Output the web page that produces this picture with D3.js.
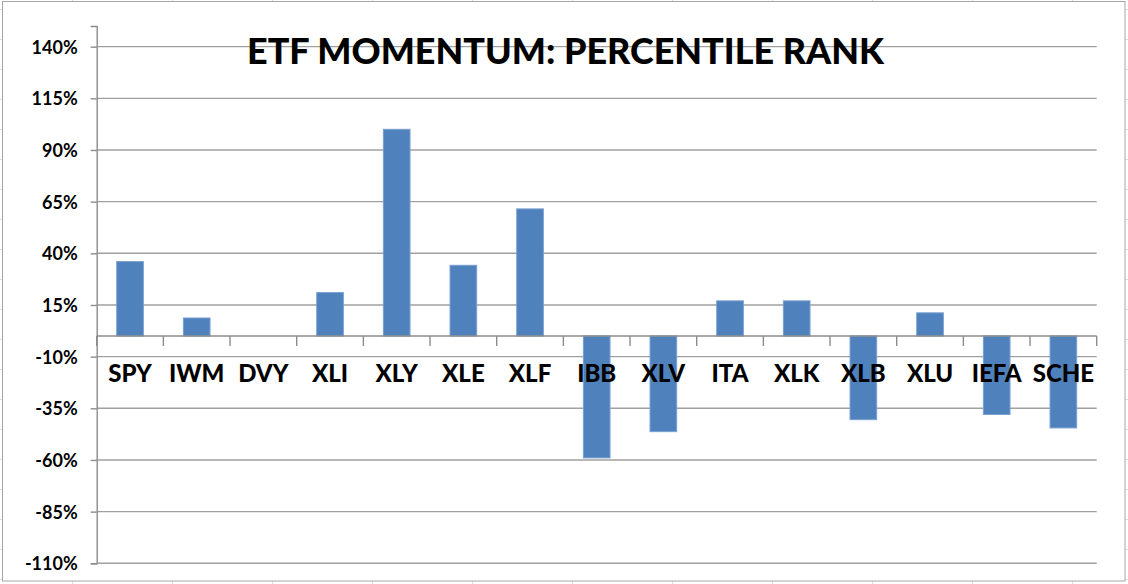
<!DOCTYPE html>
<html><head><meta charset="utf-8">
<script src="https://cdn.jsdelivr.net/npm/d3@7"></script>
<style>body{margin:0;background:#fff}svg{display:block}</style>
</head><body>
<svg id="c" width="1128" height="584"></svg>
<script>
const categories = ["SPY","IWM","DVY","XLI","XLY","XLE","XLF","IBB","XLV","ITA","XLK","XLB","XLU","IEFA","SCHE"];
const values = [36, 8.7, 0, 21, 100, 34.2, 61.5, -59, -46.3, 17, 17, -40.5, 11.2, -38, -44.5];
const yTicks = [-110,-85,-60,-35,-10,15,40,65,90,115,140];
const titleText = "ETF MOMENTUM: PERCENTILE RANK";

const svg = d3.select("#c");
const W = 1128, H = 584;
const L = 96.7, R = 1096.7, T = 26, B = 563.3;

// faint spreadsheet gridlines behind the chart
const bg = svg.append("g").attr("stroke","#dcdcdc").attr("stroke-width",1);
d3.range(72, W, 100).forEach(x => bg.append("line").attr("x1",x+0.5).attr("x2",x+0.5).attr("y1",0).attr("y2",H));
d3.range(9, H, 30).forEach(y => bg.append("line").attr("x1",0).attr("x2",W).attr("y1",y+0.5).attr("y2",y+0.5));
// chart area
svg.append("rect").attr("x",2.5).attr("y",1.5).attr("width",1122.5).attr("height",579.5)
  .attr("fill","#fff").attr("stroke","#a6a6a6").attr("stroke-width",1);

const x = d3.scaleBand().domain(categories).range([L,R]).paddingInner(0.6).paddingOuter(0.3);
const xb = d3.scaleBand().domain(categories).range([L,R]);
const y = d3.scaleLinear().domain([-110,150]).range([B,T]);

// gridlines
svg.append("g").selectAll("line").data(yTicks).join("line")
  .attr("x1",L).attr("x2",R).attr("y1",d=>y(d)).attr("y2",d=>y(d))
  .attr("stroke","#a0a0a0").attr("stroke-width",1.4);

// y axis
const yAxis = d3.axisLeft(y).tickValues(yTicks).tickSize(6).tickPadding(13).tickFormat(d=>d+"%");
const ga = svg.append("g").attr("transform",`translate(${L},0)`).call(yAxis);
ga.select(".domain").attr("stroke","#8c8c8c").attr("stroke-width",1.4);
ga.selectAll(".tick line").attr("stroke","#8c8c8c").attr("stroke-width",1.4);
ga.selectAll(".tick text").attr("font-family","Lato, 'Open Sans', sans-serif")
  .attr("font-weight","bold").attr("font-size",18).attr("fill","#000").attr("dy","0.36em");

// bars
svg.append("g").selectAll("rect").data(values).join("rect")
  .attr("x",(d,i)=>x(categories[i]))
  .attr("width",x.bandwidth())
  .attr("y",d=>Math.min(y(d),y(0)))
  .attr("height",d=>Math.abs(y(d)-y(0)))
  .attr("fill","#4f81bd").attr("stroke","#7aa0d2").attr("stroke-width",1);

// category axis at zero
const gx = svg.append("g");
gx.append("line").attr("x1",L).attr("x2",R).attr("y1",y(0)).attr("y2",y(0))
  .attr("stroke","#8c8c8c").attr("stroke-width",1.4);
const bounds = categories.map(c=>xb(c)).concat([R]);
gx.selectAll("line.t").data(bounds).join("line").attr("class","t")
  .attr("x1",d=>d).attr("x2",d=>d).attr("y1",y(0)).attr("y2",y(0)+10)
  .attr("stroke","#8c8c8c").attr("stroke-width",1.4);
gx.selectAll("text").data(categories).join("text")
  .attr("x",d=>xb(d)+xb.bandwidth()/2).attr("y",382)
  .attr("text-anchor","middle").attr("font-family","Lato, 'Open Sans', sans-serif")
  .attr("font-weight","900").attr("font-size",24).attr("fill","#000").text(d=>d);

// title
svg.append("text").attr("x",247).attr("y",64)
  .attr("font-family","Lato, 'Open Sans', sans-serif").attr("font-weight","900")
  .attr("font-size",36).attr("fill","#000")
  .attr("textLength",637).attr("lengthAdjust","spacingAndGlyphs").text(titleText);
</script>
</body></html>
